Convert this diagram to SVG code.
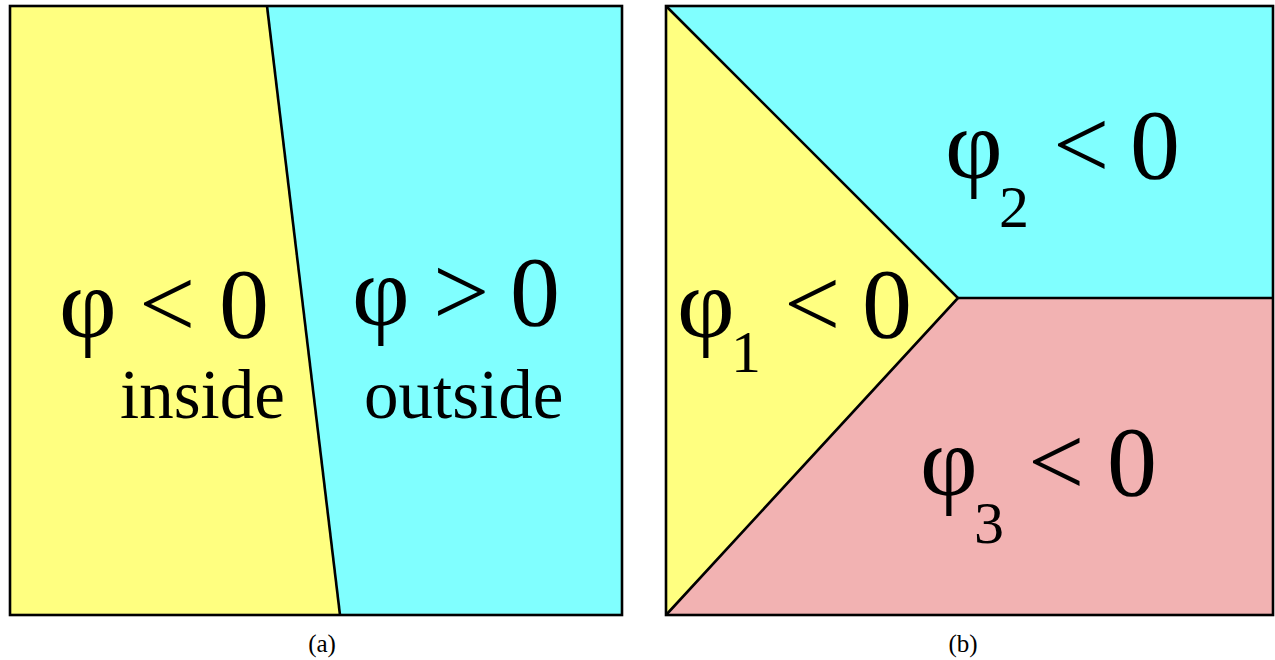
<svg xmlns="http://www.w3.org/2000/svg" width="1275" height="660" viewBox="0 0 1275 660">
<style>
.b{font-family:"Liberation Serif","Times New Roman",serif;fill:#000}
.big{font-size:100px}
.lab{font-size:69px}
.sub{font-size:60px}
.cap{font-size:25px}
.edge{fill:none;stroke:#000;stroke-width:2.6;stroke-linejoin:miter}
</style>
<rect width="1275" height="660" fill="#fff"/>
<g id="panel-a">
<polygon points="10,6 267,6 340,615 10,615" fill="#ffff80"/>
<polygon points="267,6 622,6 622,615 340,615" fill="#80ffff"/>
</g>
<g id="panel-b">
<polygon points="666,6 958,298 666,615" fill="#ffff80"/>
<polygon points="666,6 1273,6 1273,298 958,298" fill="#80ffff"/>
<polygon points="958,298 1273,298 1273,615 666,615" fill="#f2b2b2"/>
</g>
<g id="connectors">
<rect x="10" y="6" width="612" height="609" class="edge"/>
<line x1="267" y1="6" x2="340" y2="615" class="edge"/>
<rect x="666" y="6" width="607" height="609" class="edge"/>
<polyline points="666,6 958,298 666,615" class="edge"/>
<line x1="958" y1="298" x2="1273" y2="298" class="edge"/>
</g>
<g id="label-inside">
<text class="b big" y="337"><tspan x="59">φ</tspan><tspan x="139">&lt;</tspan><tspan x="219">0</tspan></text>
<text class="b lab" x="120" y="418">inside</text>
</g>
<g id="label-outside">
<text class="b big" y="325"><tspan x="352">φ</tspan><tspan x="433">&gt;</tspan><tspan x="510">0</tspan></text>
<text class="b lab" x="364" y="418">outside</text>
</g>
<g id="label-phi1">
<text class="b big"><tspan x="677" y="337">φ</tspan><tspan class="sub" x="731" y="372">1</tspan><tspan x="784" y="337">&lt;</tspan><tspan x="862" y="337">0</tspan></text>
</g>
<g id="label-phi2">
<text class="b big"><tspan x="945" y="178">φ</tspan><tspan class="sub" x="999" y="227">2</tspan><tspan x="1053" y="178">&lt;</tspan><tspan x="1130" y="178">0</tspan></text>
</g>
<g id="label-phi3">
<text class="b big"><tspan x="920" y="495">φ</tspan><tspan class="sub" x="974" y="543">3</tspan><tspan x="1028" y="495">&lt;</tspan><tspan x="1107" y="495">0</tspan></text>
</g>
<g id="captions">
<text class="b cap" x="322" y="652" text-anchor="middle">(a)</text>
<text class="b cap" x="963" y="652" text-anchor="middle">(b)</text>
</g>
</svg>
